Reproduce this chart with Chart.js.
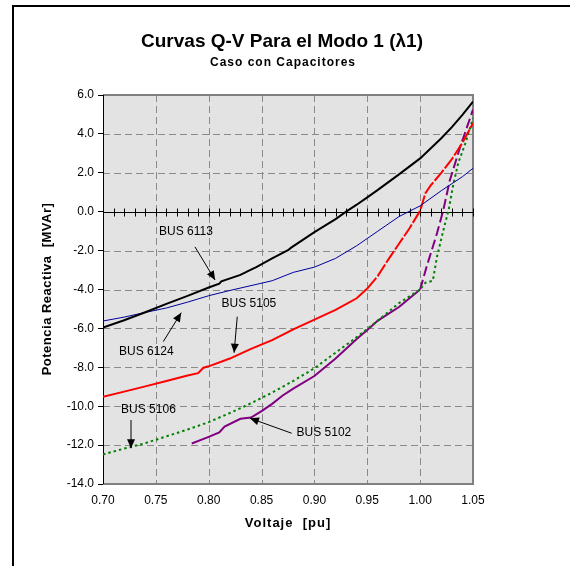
<!DOCTYPE html>
<html>
<head>
<meta charset="utf-8">
<script src="https://cdn.jsdelivr.net/npm/chart.js@4.4.0/dist/chart.umd.min.js"></script>
<style>
  html, body { margin: 0; padding: 0; background: #fff; }
  #wrap { width: 570px; height: 566px; }
</style>
</head>
<body>
<div id="wrap"><canvas id="qv" width="570" height="566"></canvas></div>
<script>
// Q-V curves, mode 1, case with capacitors
const v6113 = [0.70, 0.72, 0.74, 0.76, 0.78, 0.80, 0.81, 0.812, 0.83, 0.84, 0.845, 0.86, 0.875, 0.878, 0.90, 0.92, 0.93, 0.94, 0.95, 0.96, 0.98, 1.00, 1.02, 1.03, 1.04, 1.05];
const q6113 = [-5.96, -5.58, -5.17, -4.74, -4.33, -3.90, -3.70, -3.58, -3.25, -2.98, -2.85, -2.40, -1.98, -1.85, -1.05, -0.38, 0.00, 0.36, 0.74, 1.12, 1.92, 2.74, 3.78, 4.35, 4.98, 5.66];

const v6124 = [0.70, 0.72, 0.74, 0.76, 0.78, 0.80, 0.82, 0.84, 0.86, 0.88, 0.90, 0.92, 0.94, 0.96, 0.98, 1.00, 1.02, 1.04, 1.05];
const q6124 = [-5.62, -5.42, -5.18, -4.95, -4.65, -4.32, -4.05, -3.80, -3.55, -3.12, -2.85, -2.40, -1.75, -1.00, -0.25, 0.30, 1.08, 1.80, 2.23];

const v5105 = [0.70, 0.72, 0.74, 0.76, 0.78, 0.79, 0.795, 0.80, 0.82, 0.84, 0.86, 0.88, 0.90, 0.92, 0.94, 0.95, 0.96, 0.97, 0.98, 0.99, 1.00, 1.005, 1.01, 1.02, 1.03, 1.04, 1.05];
const q5105 = [-9.52, -9.25, -8.98, -8.70, -8.42, -8.30, -8.02, -7.95, -7.55, -7.05, -6.60, -6.05, -5.55, -5.05, -4.45, -3.95, -3.30, -2.45, -1.65, -0.85, 0.05, 0.95, 1.35, 2.00, 2.70, 3.55, 4.55];

const v5106 = [0.70, 0.72, 0.74, 0.76, 0.78, 0.80, 0.82, 0.84, 0.86, 0.88, 0.90, 0.92, 0.94, 0.96, 0.98, 1.00, 1.005, 1.012, 1.016, 1.022, 1.027, 1.031, 1.036, 1.043, 1.05];
const q5106 = [-12.48, -12.18, -11.90, -11.55, -11.20, -10.82, -10.35, -9.85, -9.30, -8.70, -8.05, -7.25, -6.45, -5.60, -4.70, -4.00, -3.65, -3.55, -2.30, -0.95, 0.10, 1.30, 2.50, 3.55, 4.80];

const v5102 = [0.784, 0.80, 0.81, 0.815, 0.83, 0.84, 0.85, 0.86, 0.87, 0.88, 0.90, 0.92, 0.94, 0.95, 0.96, 0.98, 1.00, 1.006, 1.016, 1.022, 1.028, 1.038, 1.05];
const q5102 = [-11.92, -11.58, -11.35, -11.05, -10.65, -10.58, -10.25, -9.88, -9.45, -9.10, -8.45, -7.55, -6.55, -6.08, -5.60, -4.90, -4.00, -2.85, -1.10, 0.10, 1.60, 3.35, 5.25];

const xTicks = [0.70, 0.75, 0.80, 0.85, 0.90, 0.95, 1.00, 1.05];
const yTicks = [-14, -12, -10, -8, -6, -4, -2, 0, 2, 4, 6];

// callouts: label anchor, arrow tail, arrow head (axis units)
const busNames = ['BUS 6113', 'BUS 6124', 'BUS 5105', 'BUS 5106', 'BUS 5102'];
const labelV = [0.7785, 0.741, 0.838, 0.743, 0.909];
const labelQ = [-1.04, -7.21, -4.75, -10.16, -11.36];
const tailV = [0.787, 0.757, 0.827, 0.7265, 0.8785];
const tailQ = [-1.81, -6.68, -5.40, -10.71, -11.39];
const headV = [0.806, 0.774, 0.824, 0.7265, 0.839];
const headQ = [-3.51, -5.19, -7.25, -12.16, -10.62];

const pts = (xs, ys) => xs.map((x, i) => ({ x: x, y: ys[i] }));

const plotBg = '#e3e3e3';
const gridGray = '#8a8a8a';

function arrow(ctx, x0, y0, x1, y1) {
  ctx.beginPath();
  ctx.moveTo(x0, y0);
  ctx.lineTo(x1, y1);
  ctx.stroke();
  const a = Math.atan2(y1 - y0, x1 - x0), L = 9, W = 4;
  ctx.beginPath();
  ctx.moveTo(x1, y1);
  ctx.lineTo(x1 - L * Math.cos(a) + W * Math.sin(a), y1 - L * Math.sin(a) - W * Math.cos(a));
  ctx.lineTo(x1 - L * Math.cos(a) - W * Math.sin(a), y1 - L * Math.sin(a) + W * Math.cos(a));
  ctx.closePath();
  ctx.fill();
}

const decor = {
  id: 'decor',
  beforeDraw(chart) {
    const { ctx, chartArea: a } = chart;
    ctx.save();
    ctx.fillStyle = '#fff';
    ctx.fillRect(0, 0, chart.width, chart.height);
    // outer frame
    ctx.strokeStyle = '#000';
    ctx.lineWidth = 2;
    ctx.beginPath();
    ctx.moveTo(13, chart.height);
    ctx.lineTo(13, 6);
    ctx.lineTo(chart.width, 6);
    ctx.stroke();
    ctx.fillStyle = plotBg;
    ctx.fillRect(a.left, a.top, a.right - a.left, a.bottom - a.top);
    ctx.restore();
  },
  beforeDatasetsDraw(chart) {
    const { ctx, chartArea: a, scales: { x, y } } = chart;
    ctx.save();
    // dashed grid
    ctx.strokeStyle = gridGray;
    ctx.lineWidth = 1;
    ctx.setLineDash([7, 4]);
    xTicks.slice(1, -1).forEach(v => {
      const px = Math.round(x.getPixelForValue(v)) + 0.5;
      ctx.beginPath(); ctx.moveTo(px, a.top); ctx.lineTo(px, a.bottom); ctx.stroke();
    });
    yTicks.slice(1, -1).forEach(v => {
      if (v === 0) return;
      const py = Math.round(y.getPixelForValue(v)) + 0.5;
      ctx.beginPath(); ctx.moveTo(a.left, py); ctx.lineTo(a.right, py); ctx.stroke();
    });
    ctx.setLineDash([]);
    // plot border
    ctx.strokeStyle = '#808080';
    ctx.lineWidth = 2;
    ctx.beginPath();
    ctx.moveTo(a.left, a.top); ctx.lineTo(a.right, a.top); ctx.lineTo(a.right, a.bottom); ctx.lineTo(a.left, a.bottom);
    ctx.stroke();
    // horizontal axis through Q = 0 with minor ticks
    const y0 = Math.round(y.getPixelForValue(0)) + 0.5;
    ctx.strokeStyle = '#000';
    ctx.lineWidth = 1;
    ctx.beginPath(); ctx.moveTo(a.left, y0); ctx.lineTo(a.right, y0); ctx.stroke();
    for (let k = 0; k <= 35; k++) {
      const px = Math.round(x.getPixelForValue(0.70 + k * 0.01)) + 0.5;
      ctx.beginPath(); ctx.moveTo(px, y0 - 4); ctx.lineTo(px, y0 + 4); ctx.stroke();
    }
    // vertical axis
    ctx.beginPath(); ctx.moveTo(a.left + 0.5, a.top); ctx.lineTo(a.left + 0.5, a.bottom); ctx.stroke();
    ctx.restore();
  },
  afterDatasetsDraw(chart) {
    const { ctx, scales: { x, y } } = chart;
    ctx.save();
    ctx.fillStyle = '#000';
    ctx.strokeStyle = '#000';
    ctx.lineWidth = 1;
    ctx.font = '12px "Liberation Sans", Arial, sans-serif';
    ctx.textAlign = 'center';
    ctx.textBaseline = 'middle';
    busNames.forEach((name, i) => {
      ctx.fillText(name, x.getPixelForValue(labelV[i]), y.getPixelForValue(labelQ[i]));
      arrow(ctx, x.getPixelForValue(tailV[i]), y.getPixelForValue(tailQ[i]),
                 x.getPixelForValue(headV[i]), y.getPixelForValue(headQ[i]));
    });

    // titles
    ctx.font = 'bold 19px "Liberation Sans", Arial, sans-serif';
    ctx.fillText('Curvas Q-V Para el Modo 1 (\u03bb1)', 282, 42);
    ctx.letterSpacing = '1px';
    ctx.font = 'bold 12px "Liberation Sans", Arial, sans-serif';
    ctx.fillText('Caso con Capacitores', 283, 63);
    ctx.font = 'bold 13px "Liberation Sans", Arial, sans-serif';
    ctx.fillText('Voltaje  [pu]', 288, 523);
    ctx.translate(47, 289);
    ctx.rotate(-Math.PI / 2);
    ctx.letterSpacing = '0.5px';
    ctx.fillText('Potencia Reactiva  [MVAr]', 0, 0);
    ctx.restore();
  }
};

const ctx = document.getElementById('qv').getContext('2d');
new Chart(ctx, {
  type: 'scatter',
  data: {
    datasets: [
      { label: 'BUS 6113', data: pts(v6113, q6113), borderColor: '#000000', borderWidth: 2 },
      { label: 'BUS 6124', data: pts(v6124, q6124), borderColor: '#000099', borderWidth: 1 },
      { label: 'BUS 5105', data: pts(v5105, q5105), borderColor: '#ff0000', borderWidth: 2,
        segment: { borderDash: c => c.p0.parsed.x >= 0.95 ? [14, 2] : undefined } },
      { label: 'BUS 5106', data: pts(v5106, q5106), borderColor: '#008000', borderWidth: 2, borderDash: [2.5, 3] },
      { label: 'BUS 5102', data: pts(v5102, q5102), borderColor: '#800080', borderWidth: 2,
        segment: { borderDash: c => c.p0.parsed.x >= 1.0 ? [10, 4] : undefined } }
    ].map(d => Object.assign({ showLine: true, pointRadius: 0, tension: 0, fill: false }, d))
  },
  options: {
    responsive: false,
    animation: false,
    devicePixelRatio: 1,
    layout: { padding: { left: 0, top: 95, right: 97, bottom: 0 } },
    plugins: { legend: { display: false }, tooltip: { enabled: false } },
    scales: {
      x: {
        type: 'linear',
        min: 0.70,
        max: 1.05,
        afterBuildTicks: s => { s.ticks = xTicks.map(v => ({ value: v })); },
        afterFit: s => { s.height = 82; },
        grid: { drawOnChartArea: false, drawTicks: false },
        border: { display: false },
        ticks: {
          padding: 9,
          color: '#000',
          font: { family: '"Liberation Sans", Arial, sans-serif', size: 12 },
          callback: v => Number(v).toFixed(2)
        }
      },
      y: {
        type: 'linear',
        min: -14,
        max: 6,
        afterBuildTicks: s => { s.ticks = yTicks.map(v => ({ value: v })); },
        afterFit: s => { s.width = 103; },
        grid: { drawOnChartArea: false, drawTicks: true, tickLength: 5, tickColor: '#000' },
        border: { display: false },
        ticks: {
          padding: 4,
          color: '#000',
          font: { family: '"Liberation Sans", Arial, sans-serif', size: 12 },
          callback: v => Number(v).toFixed(1)
        }
      }
    }
  },
  plugins: [decor]
});
</script>
</body>
</html>
